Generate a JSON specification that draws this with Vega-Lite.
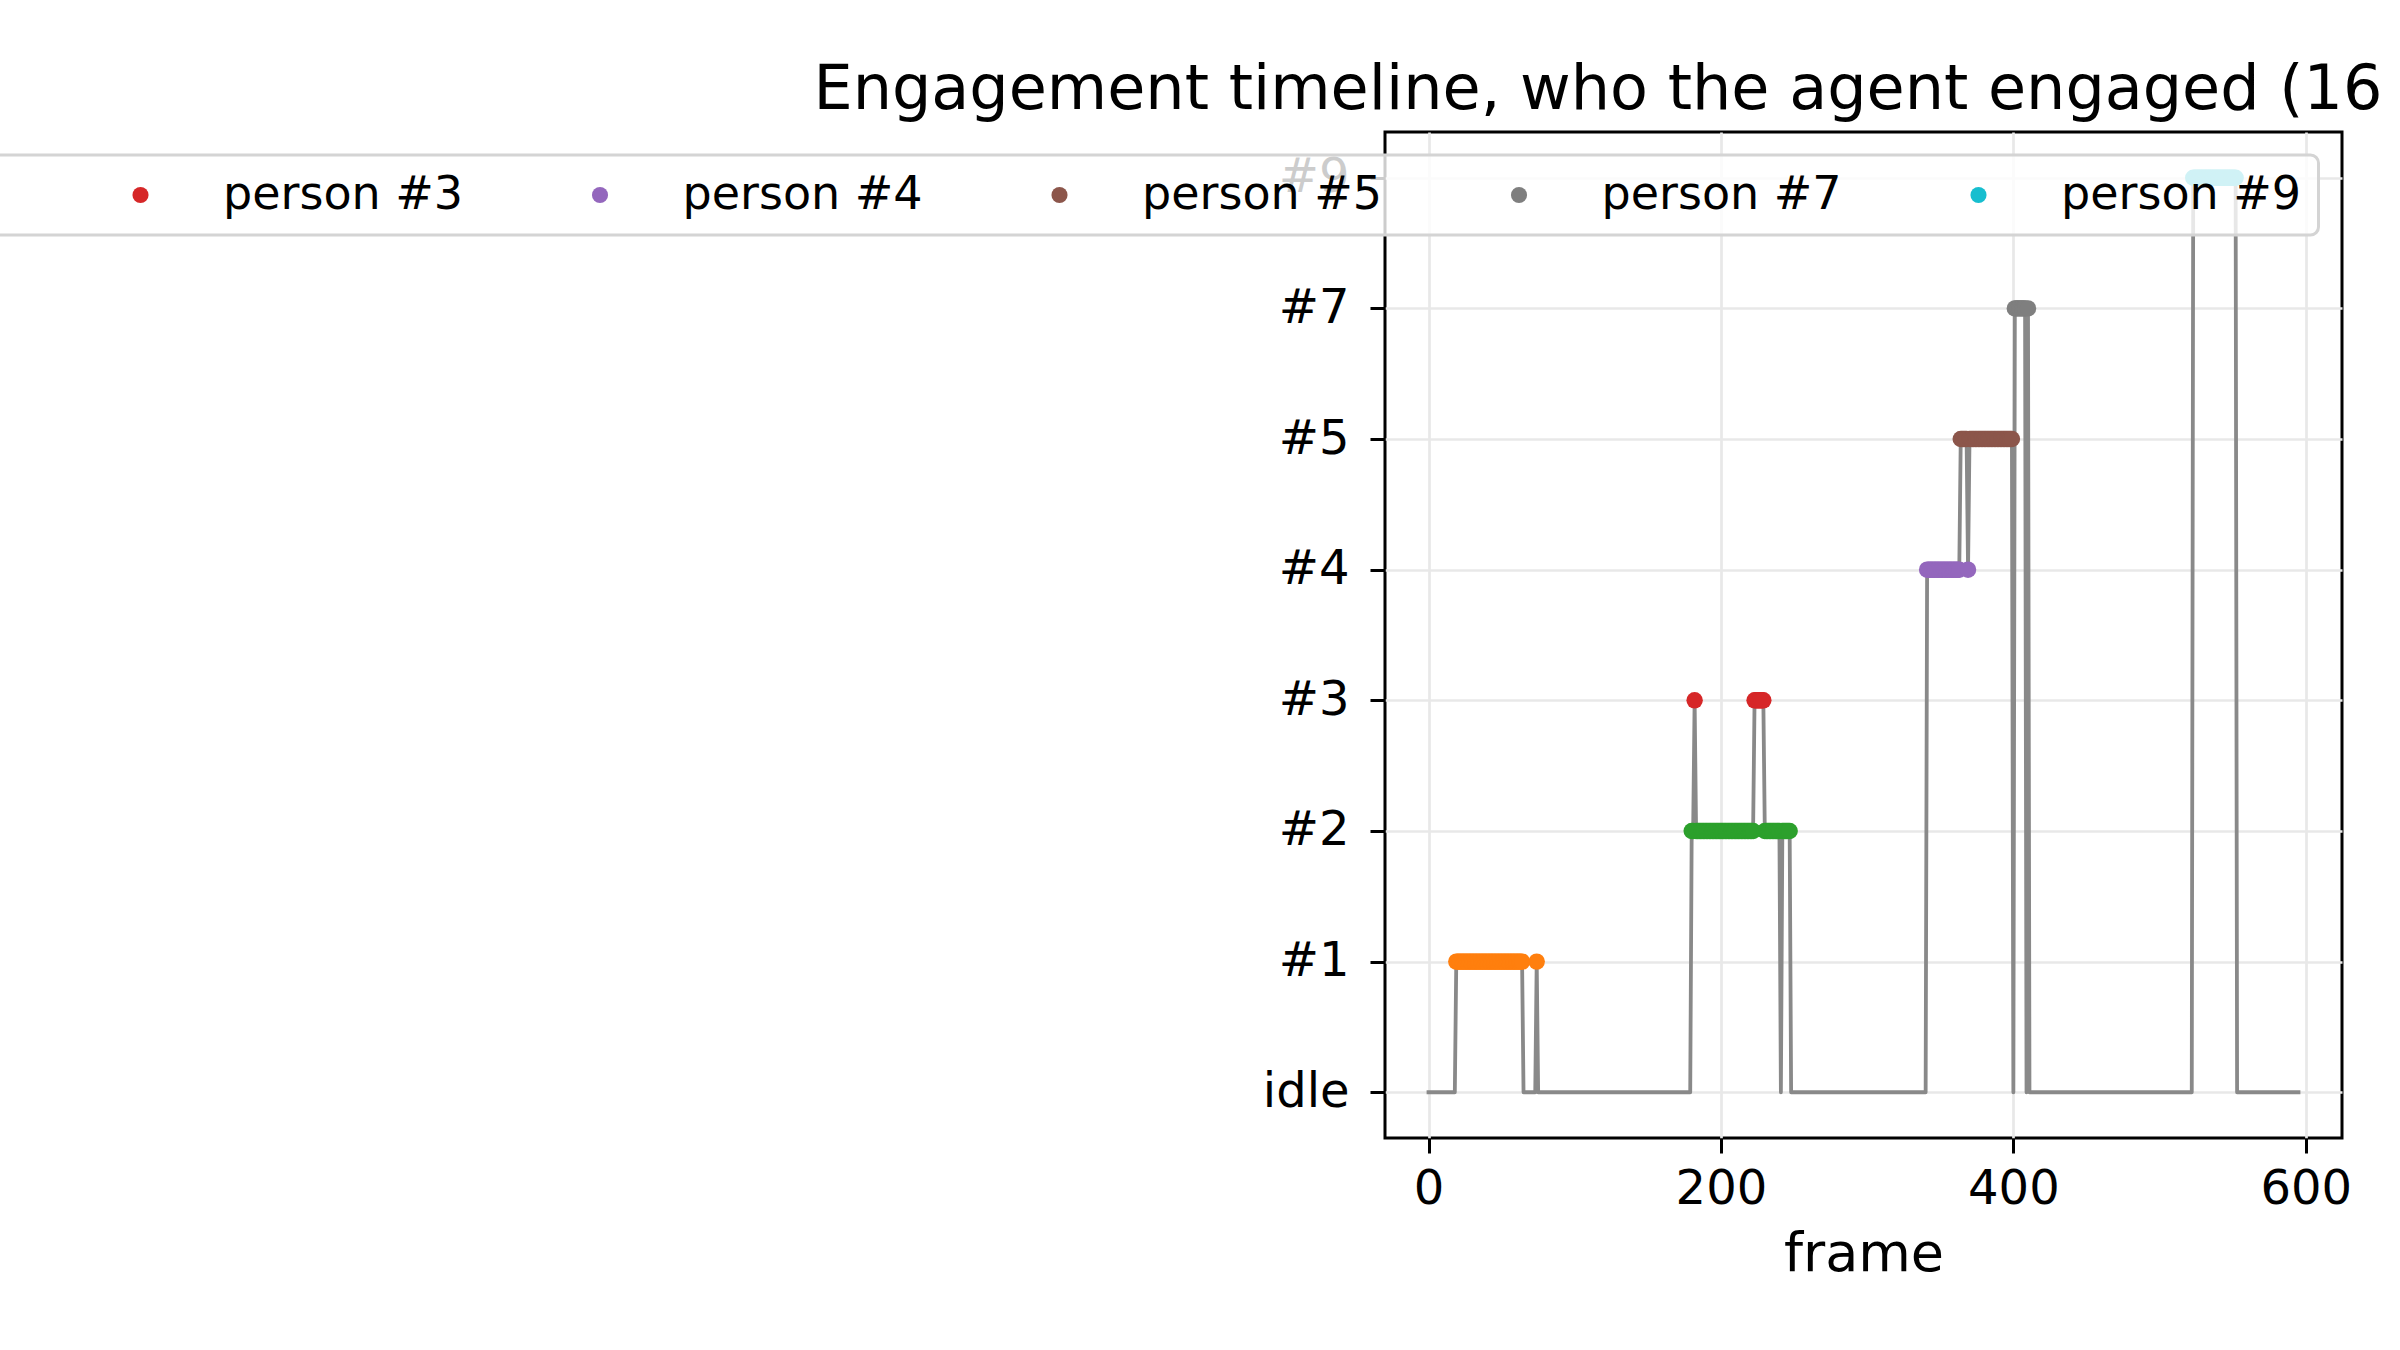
{
  "$schema": "https://vega.github.io/schema/vega-lite/v6.json",
  "width": 957,
  "height": 1006,
  "autosize": {"type": "none"},
  "padding": {"left": 1385, "top": 132, "right": 58, "bottom": 212},
  "background": "white",
  "title": {
    "text": "Engagement timeline, who the agent engaged (16 segments)",
    "anchor": "start",
    "frame": "group",
    "dx": -571.5,
    "baseline": "alphabetic",
    "offset": -39,
    "font": "DejaVu Sans",
    "fontSize": 62,
    "fontWeight": "normal",
    "color": "black"
  },
  "datasets": {
    "timeline": [
      {"frame": 0, "who": "idle"}, {"frame": 18, "who": "idle"}, {"frame": 19, "who": "#1"}, {"frame": 64, "who": "#1"},
      {"frame": 65, "who": "idle"}, {"frame": 73, "who": "idle"}, {"frame": 74, "who": "#1"}, {"frame": 75, "who": "idle"},
      {"frame": 179, "who": "idle"}, {"frame": 180, "who": "#2"}, {"frame": 181, "who": "#2"}, {"frame": 182, "who": "#3"},
      {"frame": 183, "who": "#2"}, {"frame": 222, "who": "#2"}, {"frame": 223, "who": "#3"}, {"frame": 229, "who": "#3"},
      {"frame": 230, "who": "#2"}, {"frame": 240, "who": "#2"}, {"frame": 241, "who": "idle"}, {"frame": 242, "who": "#2"},
      {"frame": 247, "who": "#2"}, {"frame": 248, "who": "idle"}, {"frame": 340, "who": "idle"}, {"frame": 341, "who": "#4"},
      {"frame": 363, "who": "#4"}, {"frame": 364, "who": "#5"}, {"frame": 368, "who": "#5"}, {"frame": 369, "who": "#4"},
      {"frame": 370, "who": "#5"}, {"frame": 399, "who": "#5"}, {"frame": 400, "who": "idle"}, {"frame": 401, "who": "#7"},
      {"frame": 408, "who": "#7"}, {"frame": 409, "who": "idle"}, {"frame": 410, "who": "#7"}, {"frame": 411, "who": "idle"},
      {"frame": 522, "who": "idle"}, {"frame": 523, "who": "#9"}, {"frame": 552, "who": "#9"}, {"frame": 553, "who": "idle"},
      {"frame": 595, "who": "idle"}
    ],
    "engaged": [
      {"frame": 19, "who": "#1"}, {"frame": 20, "who": "#1"}, {"frame": 21, "who": "#1"}, {"frame": 22, "who": "#1"}, {"frame": 23, "who": "#1"},
      {"frame": 24, "who": "#1"}, {"frame": 25, "who": "#1"}, {"frame": 26, "who": "#1"}, {"frame": 27, "who": "#1"}, {"frame": 28, "who": "#1"},
      {"frame": 29, "who": "#1"}, {"frame": 30, "who": "#1"}, {"frame": 31, "who": "#1"}, {"frame": 32, "who": "#1"}, {"frame": 33, "who": "#1"},
      {"frame": 34, "who": "#1"}, {"frame": 35, "who": "#1"}, {"frame": 36, "who": "#1"}, {"frame": 37, "who": "#1"}, {"frame": 38, "who": "#1"},
      {"frame": 39, "who": "#1"}, {"frame": 40, "who": "#1"}, {"frame": 41, "who": "#1"}, {"frame": 42, "who": "#1"}, {"frame": 43, "who": "#1"},
      {"frame": 44, "who": "#1"}, {"frame": 45, "who": "#1"}, {"frame": 46, "who": "#1"}, {"frame": 47, "who": "#1"}, {"frame": 48, "who": "#1"},
      {"frame": 49, "who": "#1"}, {"frame": 50, "who": "#1"}, {"frame": 51, "who": "#1"}, {"frame": 52, "who": "#1"}, {"frame": 53, "who": "#1"},
      {"frame": 54, "who": "#1"}, {"frame": 55, "who": "#1"}, {"frame": 56, "who": "#1"}, {"frame": 57, "who": "#1"}, {"frame": 58, "who": "#1"},
      {"frame": 59, "who": "#1"}, {"frame": 60, "who": "#1"}, {"frame": 61, "who": "#1"}, {"frame": 62, "who": "#1"}, {"frame": 63, "who": "#1"},
      {"frame": 64, "who": "#1"}, {"frame": 74, "who": "#1"},
      {"frame": 180, "who": "#2"}, {"frame": 181, "who": "#2"}, {"frame": 182, "who": "#3"},
      {"frame": 183, "who": "#2"}, {"frame": 184, "who": "#2"}, {"frame": 185, "who": "#2"}, {"frame": 186, "who": "#2"}, {"frame": 187, "who": "#2"},
      {"frame": 188, "who": "#2"}, {"frame": 189, "who": "#2"}, {"frame": 190, "who": "#2"}, {"frame": 191, "who": "#2"}, {"frame": 192, "who": "#2"},
      {"frame": 193, "who": "#2"}, {"frame": 194, "who": "#2"}, {"frame": 195, "who": "#2"}, {"frame": 196, "who": "#2"}, {"frame": 197, "who": "#2"},
      {"frame": 198, "who": "#2"}, {"frame": 199, "who": "#2"}, {"frame": 200, "who": "#2"}, {"frame": 201, "who": "#2"}, {"frame": 202, "who": "#2"},
      {"frame": 203, "who": "#2"}, {"frame": 204, "who": "#2"}, {"frame": 205, "who": "#2"}, {"frame": 206, "who": "#2"}, {"frame": 207, "who": "#2"},
      {"frame": 208, "who": "#2"}, {"frame": 209, "who": "#2"}, {"frame": 210, "who": "#2"}, {"frame": 211, "who": "#2"}, {"frame": 212, "who": "#2"},
      {"frame": 213, "who": "#2"}, {"frame": 214, "who": "#2"}, {"frame": 215, "who": "#2"}, {"frame": 216, "who": "#2"}, {"frame": 217, "who": "#2"},
      {"frame": 218, "who": "#2"}, {"frame": 219, "who": "#2"}, {"frame": 220, "who": "#2"}, {"frame": 221, "who": "#2"}, {"frame": 222, "who": "#2"},
      {"frame": 223, "who": "#3"}, {"frame": 224, "who": "#3"}, {"frame": 225, "who": "#3"}, {"frame": 226, "who": "#3"}, {"frame": 227, "who": "#3"},
      {"frame": 228, "who": "#3"}, {"frame": 229, "who": "#3"},
      {"frame": 230, "who": "#2"}, {"frame": 231, "who": "#2"}, {"frame": 232, "who": "#2"}, {"frame": 233, "who": "#2"}, {"frame": 234, "who": "#2"},
      {"frame": 235, "who": "#2"}, {"frame": 236, "who": "#2"}, {"frame": 237, "who": "#2"}, {"frame": 238, "who": "#2"}, {"frame": 239, "who": "#2"},
      {"frame": 240, "who": "#2"}, {"frame": 242, "who": "#2"}, {"frame": 243, "who": "#2"}, {"frame": 244, "who": "#2"}, {"frame": 245, "who": "#2"},
      {"frame": 246, "who": "#2"}, {"frame": 247, "who": "#2"},
      {"frame": 341, "who": "#4"}, {"frame": 342, "who": "#4"}, {"frame": 343, "who": "#4"}, {"frame": 344, "who": "#4"}, {"frame": 345, "who": "#4"},
      {"frame": 346, "who": "#4"}, {"frame": 347, "who": "#4"}, {"frame": 348, "who": "#4"}, {"frame": 349, "who": "#4"}, {"frame": 350, "who": "#4"},
      {"frame": 351, "who": "#4"}, {"frame": 352, "who": "#4"}, {"frame": 353, "who": "#4"}, {"frame": 354, "who": "#4"}, {"frame": 355, "who": "#4"},
      {"frame": 356, "who": "#4"}, {"frame": 357, "who": "#4"}, {"frame": 358, "who": "#4"}, {"frame": 359, "who": "#4"}, {"frame": 360, "who": "#4"},
      {"frame": 361, "who": "#4"}, {"frame": 362, "who": "#4"}, {"frame": 363, "who": "#4"},
      {"frame": 364, "who": "#5"}, {"frame": 365, "who": "#5"}, {"frame": 366, "who": "#5"}, {"frame": 367, "who": "#5"}, {"frame": 368, "who": "#5"},
      {"frame": 369, "who": "#4"},
      {"frame": 370, "who": "#5"}, {"frame": 371, "who": "#5"}, {"frame": 372, "who": "#5"}, {"frame": 373, "who": "#5"}, {"frame": 374, "who": "#5"},
      {"frame": 375, "who": "#5"}, {"frame": 376, "who": "#5"}, {"frame": 377, "who": "#5"}, {"frame": 378, "who": "#5"}, {"frame": 379, "who": "#5"},
      {"frame": 380, "who": "#5"}, {"frame": 381, "who": "#5"}, {"frame": 382, "who": "#5"}, {"frame": 383, "who": "#5"}, {"frame": 384, "who": "#5"},
      {"frame": 385, "who": "#5"}, {"frame": 386, "who": "#5"}, {"frame": 387, "who": "#5"}, {"frame": 388, "who": "#5"}, {"frame": 389, "who": "#5"},
      {"frame": 390, "who": "#5"}, {"frame": 391, "who": "#5"}, {"frame": 392, "who": "#5"}, {"frame": 393, "who": "#5"}, {"frame": 394, "who": "#5"},
      {"frame": 395, "who": "#5"}, {"frame": 396, "who": "#5"}, {"frame": 397, "who": "#5"}, {"frame": 398, "who": "#5"}, {"frame": 399, "who": "#5"},
      {"frame": 401, "who": "#7"}, {"frame": 402, "who": "#7"}, {"frame": 403, "who": "#7"}, {"frame": 404, "who": "#7"}, {"frame": 405, "who": "#7"},
      {"frame": 406, "who": "#7"}, {"frame": 407, "who": "#7"}, {"frame": 408, "who": "#7"}, {"frame": 410, "who": "#7"},
      {"frame": 523, "who": "#9"}, {"frame": 524, "who": "#9"}, {"frame": 525, "who": "#9"}, {"frame": 526, "who": "#9"}, {"frame": 527, "who": "#9"},
      {"frame": 528, "who": "#9"}, {"frame": 529, "who": "#9"}, {"frame": 530, "who": "#9"}, {"frame": 531, "who": "#9"}, {"frame": 532, "who": "#9"},
      {"frame": 533, "who": "#9"}, {"frame": 534, "who": "#9"}, {"frame": 535, "who": "#9"}, {"frame": 536, "who": "#9"}, {"frame": 537, "who": "#9"},
      {"frame": 538, "who": "#9"}, {"frame": 539, "who": "#9"}, {"frame": 540, "who": "#9"}, {"frame": 541, "who": "#9"}, {"frame": 542, "who": "#9"},
      {"frame": 543, "who": "#9"}, {"frame": 544, "who": "#9"}, {"frame": 545, "who": "#9"}, {"frame": 546, "who": "#9"}, {"frame": 547, "who": "#9"},
      {"frame": 548, "who": "#9"}, {"frame": 549, "who": "#9"}, {"frame": 550, "who": "#9"}, {"frame": 551, "who": "#9"}, {"frame": 552, "who": "#9"}
    ]
  },
  "config": {
    "view": {"stroke": "black", "strokeWidth": 3},
    "axis": {
      "labelFont": "DejaVu Sans",
      "labelFontSize": 48,
      "labelColor": "black",
      "titleFont": "DejaVu Sans",
      "titleFontSize": 54,
      "titleFontWeight": "normal",
      "titleColor": "black",
      "tickColor": "black",
      "tickWidth": 3,
      "tickSize": 15,
      "domain": false,
      "grid": true,
      "gridColor": "#e8e8e8",
      "gridWidth": 2.7
    },
    "legend": {"strokeWidth": 3}
  },
  "layer": [
    {
      "data": {"name": "timeline"},
      "mark": {"type": "line", "color": "#898989", "strokeWidth": 3.8, "strokeJoin": "round", "strokeCap": "square"},
      "encoding": {
        "x": {
          "field": "frame",
          "type": "quantitative",
          "scale": {"domain": [-29.75, 624.75], "nice": false, "zero": false},
          "axis": {"values": [0, 200, 400, 600], "format": "d", "title": "frame", "labelPadding": 12, "titlePadding": 14}
        },
        "y": {
          "field": "who",
          "type": "nominal",
          "scale": {"type": "point", "domain": ["#9", "#7", "#5", "#4", "#3", "#2", "#1", "idle"], "padding": 0.35},
          "axis": {"title": null, "labelPadding": 21}
        },
        "order": {"field": "frame", "type": "quantitative"}
      }
    },
    {
      "data": {"name": "engaged"},
      "mark": {"type": "circle", "size": 270, "opacity": 1, "strokeWidth": 0},
      "encoding": {
        "x": {"field": "frame", "type": "quantitative"},
        "y": {"field": "who", "type": "nominal"},
        "color": {
          "field": "who",
          "type": "nominal",
          "scale": {
            "domain": ["#1", "#2", "#3", "#4", "#5", "#7", "#9"],
            "range": ["#ff7f0e", "#2ca02c", "#d62728", "#9467bd", "#8c564b", "#7f7f7f", "#17becf"]
          },
          "legend": {
            "title": null,
            "orient": "none",
            "legendX": -2203.5,
            "legendY": 23,
            "direction": "horizontal",
            "columns": 7,
            "labelExpr": "'person ' + datum.label",
            "labelFont": "DejaVu Sans",
            "labelFontSize": 46,
            "labelColor": "black",
            "labelLimit": 0,
            "labelOffset": 59.5,
            "columnPadding": 113.5,
            "symbolType": "circle",
            "symbolSize": 260,
            "symbolStrokeWidth": 0,
            "symbolOpacity": 1,
            "padding": 17,
            "fillColor": "rgba(255,255,255,0.8)",
            "strokeColor": "#d4d4d4",
            "cornerRadius": 8,
            "zindex": 1
          }
        }
      }
    }
  ]
}
